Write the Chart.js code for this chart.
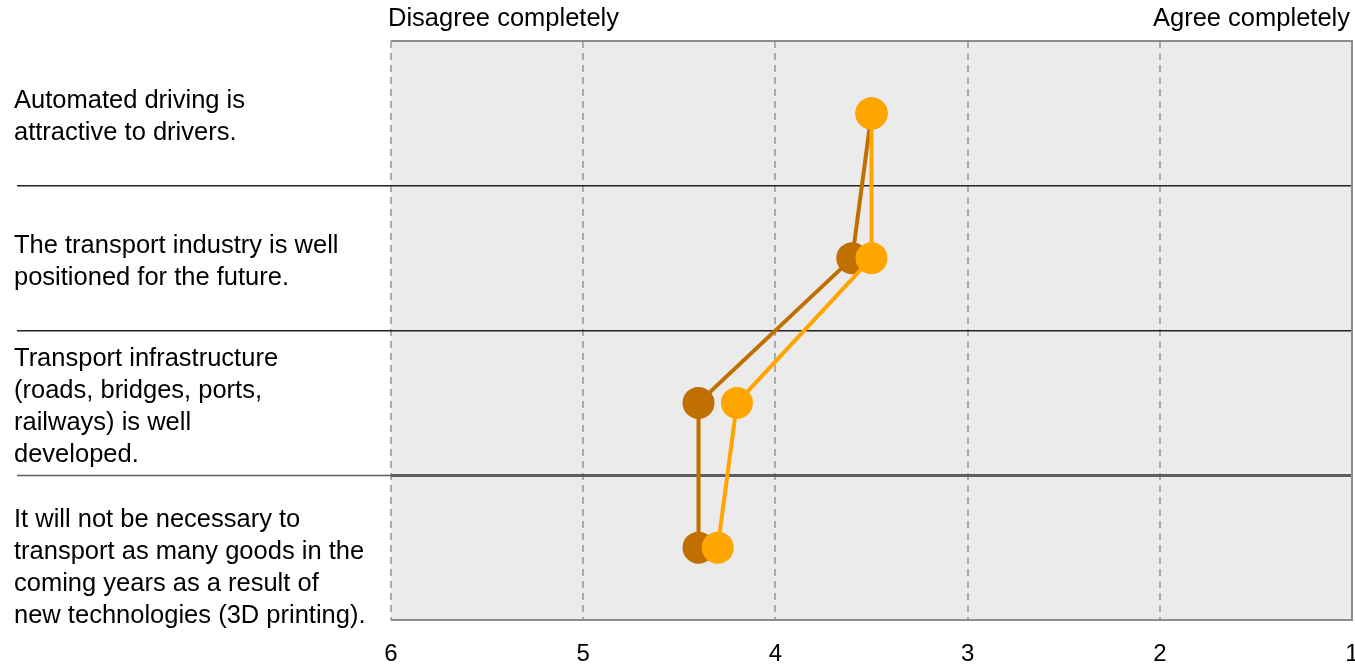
<!DOCTYPE html>
<html>
<head>
<meta charset="utf-8">
<script src="https://cdn.jsdelivr.net/npm/chart.js@4/dist/chart.umd.min.js"></script>
<style>
  html, body { margin: 0; padding: 0; background: #ffffff; }
  #wrap { width: 1355px; height: 664px; }
</style>
</head>
<body>
<div id="wrap"><canvas id="c" width="1355" height="664"></canvas></div>
<script>
// Survey statements (y categories); a leading blank line nudges the long last label down
const statements = [
  ['Automated driving is', 'attractive to drivers.'],
  ['The transport industry is well', 'positioned for the future.'],
  ['Transport infrastructure', '(roads, bridges, ports,', 'railways) is well', 'developed.'],
  ['', 'It will not be necessary to', 'transport as many goods in the', 'coming years as a result of', 'new technologies (3D printing).']
];

// Mean agreement scores (6 = disagree completely, 1 = agree completely)
const groupA = [3.5, 3.6, 4.4, 4.4];
const groupB = [3.5, 3.5, 4.2, 4.3];

// Scale end captions and tick range
const scaleEnds = { left: 'Disagree completely', right: 'Agree completely' };
const scaleMin = 1;
const scaleMax = 6;

const FONT = '"Liberation Sans", Arial, sans-serif';
const LABEL_SIZE = 25.5;

// Grey panel behind the plot and a solid frame on top/right/bottom
const panelPlugin = {
  id: 'panel',
  beforeDraw(chart) {
    const { ctx, chartArea: a } = chart;
    ctx.save();
    ctx.fillStyle = '#ebebeb';
    ctx.fillRect(a.left, a.top, a.right - a.left, a.bottom - a.top);
    ctx.restore();
  },
  beforeDatasetsDraw(chart) {
    const { ctx, chartArea: a } = chart;
    ctx.save();
    ctx.strokeStyle = '#8c8c8c';
    ctx.lineWidth = 2;
    ctx.beginPath();
    ctx.moveTo(a.left, a.top);
    ctx.lineTo(a.right, a.top);
    ctx.lineTo(a.right, a.bottom);
    ctx.lineTo(a.left, a.bottom);
    ctx.stroke();
    ctx.restore();
  },
  afterDraw(chart) {
    const { ctx } = chart;
    const x = chart.scales.x;
    ctx.save();
    ctx.fillStyle = '#000';
    ctx.font = LABEL_SIZE + 'px ' + FONT;
    ctx.textBaseline = 'middle';
    ctx.textAlign = 'left';
    ctx.fillText(scaleEnds.left, x.getPixelForValue(scaleMax) - 3, 19);
    ctx.textAlign = 'right';
    ctx.fillText(scaleEnds.right, x.getPixelForValue(scaleMin) - 2, 19);
    ctx.restore();
  }
};

// Only the three inner row boundaries are drawn as separators
const sepColor = (ctx) => {
  const i = ctx.index;
  if (i === undefined || i <= 0 || i >= 4) return 'rgba(0,0,0,0)';
  return i === 3 ? '#5e5e5e' : '#222222';
};

new Chart(document.getElementById('c'), {
  type: 'line',
  plugins: [panelPlugin],
  data: {
    labels: statements,
    datasets: [
      {
        label: 'Group B',
        data: groupB,
        borderColor: '#ffa500',
        backgroundColor: '#ffa500',
        pointBackgroundColor: '#ffa500',
        pointBorderWidth: 0,
        pointRadius: 16,
        borderWidth: 4,
        tension: 0
      },
      {
        label: 'Group A',
        data: groupA,
        borderColor: '#c07000',
        backgroundColor: '#c07000',
        pointBackgroundColor: '#c07000',
        pointBorderWidth: 0,
        pointRadius: 16,
        borderWidth: 4,
        tension: 0
      }
    ]
  },
  options: {
    indexAxis: 'y',
    responsive: false,
    animation: false,
    events: [],
    layout: { autoPadding: false, padding: { left: 14, right: 3, top: 41, bottom: 0 } },
    plugins: {
      legend: { display: false },
      tooltip: { enabled: false },
      title: { display: false }
    },
    scales: {
      x: {
        type: 'linear',
        position: 'bottom',
        reverse: true,
        min: scaleMin,
        max: scaleMax,
        afterFit(scale) {
          scale.height = 44;
          scale.paddingLeft = 0;
          scale.paddingRight = 0;
        },
        ticks: {
          stepSize: 1,
          color: '#000',
          padding: 20,
          font: { family: FONT, size: 24 }
        },
        grid: {
          color: '#ababab',
          lineWidth: 2,
          drawTicks: false
        },
        border: { display: false, dash: [7, 5] }
      },
      y: {
        type: 'category',
        position: 'left',
        offset: true,
        afterFit(scale) {
          scale.width = 377;
          scale.paddingTop = 0;
          scale.paddingBottom = 0;
        },
        ticks: {
          autoSkip: false,
          crossAlign: 'far',
          color: '#000',
          padding: 0,
          labelOffset: 4,
          font: { family: FONT, size: LABEL_SIZE, lineHeight: 32 / LABEL_SIZE }
        },
        grid: {
          offset: true,
          tickLength: 374,
          color: sepColor,
          tickColor: sepColor,
          lineWidth(ctx) { return ctx.index === 3 ? 3 : 1.5; },
          tickWidth: 1.5
        },
        border: { display: false }
      }
    }
  }
});
</script>
</body>
</html>
